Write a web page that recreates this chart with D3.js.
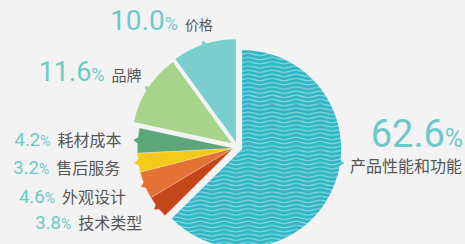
<!DOCTYPE html>
<html>
<head>
<meta charset="utf-8">
<script src="https://cdn.jsdelivr.net/npm/d3@7"></script>
<style>
  body { margin: 0; background: #f3f3f3; }
  svg { display: block; }
</style>
</head>
<body>
<svg id="chart" width="465" height="244"></svg>
<script>
const width = 465;
const height = 244;
const svg = d3.select("#chart");

// データ (時計回り、12時の位置から)
const categories = ["产品性能和功能", "技术类型", "外观设计", "售后服务", "耗材成本", "品牌", "价格"];
const values = [62.6, 3.8, 4.6, 3.2, 4.2, 11.6, 10.0];
const colors = ["#2fb6c6", "#c4461b", "#e47236", "#f5ca1c", "#5ca679", "#a7d48b", "#7acfcd"];

// レイアウト
const center = { x: 237.5, y: 147 };
const radii = [99, 96, 96, 96, 96, 100, 103];
const explode = [5, 4.5, 4.5, 4.5, 4.5, 7, 5];
const groups = [0, 1, 1, 1, 1, 2, 3];        // 小さいスライスはまとめて引き出す
const notchDeg = [98, null, null, null, null, null, null]; // null = 中心角
const labelOffsets = [[6, 9], [-12, 19], [-15, 16], [-14, 11], [-12, 6], [-3, -5], [10, -10]];
const pctSize = [38, 18.5, 18.5, 18.5, 18.5, 27, 28];
const nameSize = [16, 16, 16, 16, 16, 15, 14];

const polar = (r, a) => [r * Math.sin(a), -r * Math.cos(a)];

const arcs = d3.pie().sort(null).value(d => d)(values);

// グループごとの引き出し角度
const groupAngle = {};
arcs.forEach((a, i) => {
    const g = groups[i];
    if (!groupAngle[g]) groupAngle[g] = [a.startAngle, a.endAngle];
    groupAngle[g][0] = Math.min(groupAngle[g][0], a.startAngle);
    groupAngle[g][1] = Math.max(groupAngle[g][1], a.endAngle);
});

// 波模様
const defs = svg.append("defs");
const pat = defs.append("pattern")
    .attr("id", "wave")
    .attr("patternUnits", "userSpaceOnUse")
    .attr("width", 24)
    .attr("height", 4.2);
pat.append("rect").attr("width", 24).attr("height", 4.2).attr("fill", colors[0]);
pat.append("path")
    .attr("d", "M0,2.1 C6,0.5 6,0.5 12,2.1 S18,3.7 24,2.1")
    .attr("fill", "none")
    .attr("stroke", "#8fd8df")
    .attr("stroke-width", 1.1);

const slices = arcs.map((a, i) => {
    const g = groupAngle[groups[i]];
    const [ox, oy] = polar(explode[i], (g[0] + g[1]) / 2);
    const apex = { x: center.x + ox, y: center.y + oy };
    const na = notchDeg[i] === null ? (a.startAngle + a.endAngle) / 2 : notchDeg[i] * Math.PI / 180;
    const [tx, ty] = polar(radii[i] + 4, na);
    return { a, i, apex, na, tip: { x: apex.x + tx, y: apex.y + ty } };
});

const sliceG = svg.append("g");
slices.forEach(s => {
    const r = radii[s.i];
    const g = sliceG.append("g").attr("transform", `translate(${s.apex.x},${s.apex.y})`);
    const fill = s.i === 0 ? "url(#wave)" : colors[s.i];
    g.append("path")
        .attr("d", d3.arc().innerRadius(0).outerRadius(r)(s.a))
        .attr("fill", fill)
        .attr("stroke", groups[s.i] === 1 ? "rgba(255,255,255,0.35)" : "none")
        .attr("stroke-width", 0.7);
    // ラベルへの小さな三角
    const w = 3.5 / r;
    const pts = [polar(r - 1, s.na - w), polar(r + 4, s.na), polar(r - 1, s.na + w)];
    g.append("path")
        .attr("d", d3.line()(pts) + "Z")
        .attr("fill", fill);
});

// ラベル
const labelG = svg.append("g");
slices.forEach(s => {
    const i = s.i;
    const [dx, dy] = labelOffsets[i];
    const nameText = labelG.append("text")
        .attr("font-family", "'Noto Sans CJK SC', sans-serif")
        .attr("font-size", nameSize[i])
        .attr("fill", "#555")
        .text(categories[i]);

    const pct = labelG.append("text")
        .attr("font-family", "Roboto, 'Liberation Sans', sans-serif")
        .attr("fill", "#6ccac6")
        .attr("text-anchor", "end");
    pct.append("tspan").attr("font-size", pctSize[i]).text(values[i].toFixed(1));
    pct.append("tspan").attr("font-size", Math.max(14, Math.round(pctSize[i] * 0.66))).text("%");

    if (i === 0) {
        const x0 = s.tip.x + dx;
        const y0 = s.tip.y + dy;
        nameText.attr("x", x0).attr("y", y0);
        const bb = nameText.node().getBBox();
        pct.attr("x", bb.x + bb.width + 1).attr("y", y0 - 25);
    } else {
        const xEnd = s.tip.x + dx;
        const y0 = s.tip.y + dy;
        nameText.attr("x", xEnd).attr("y", y0).attr("text-anchor", "end");
        const bb = nameText.node().getBBox();
        pct.attr("x", bb.x - 7).attr("y", y0);
    }
});
</script>
</body>
</html>
